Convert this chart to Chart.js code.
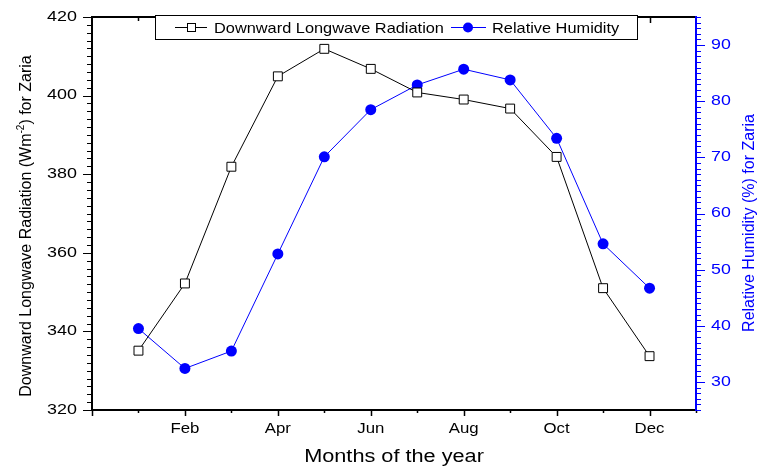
<!DOCTYPE html>
<html>
<head>
<meta charset="utf-8">
<script src="https://cdn.jsdelivr.net/npm/chart.js@4.4.0/dist/chart.umd.min.js"></script>
<style>
  html, body { margin: 0; padding: 0; background: #fff; }
  canvas { display: block; }
</style>
</head>
<body>
<canvas id="chart" width="760" height="466"></canvas>
<script>
// data
const months = ['Jan', 'Feb', 'Mar', 'Apr', 'May', 'Jun', 'Jul', 'Aug', 'Sep', 'Oct', 'Nov', 'Dec'];
const radiation = [335.1, 352.2, 381.9, 404.9, 411.9, 406.8, 400.8, 399.0, 396.7, 384.4, 351.0, 333.7];
const humidity = [39.5, 32.4, 35.5, 52.8, 70.1, 78.5, 82.9, 85.7, 83.8, 73.4, 54.6, 46.7];
const radTicks = [320, 340, 360, 380, 400, 420];
const rhTicks = [30, 40, 50, 60, 70, 80, 90];
const monthTicks = [2, 4, 6, 8, 10, 12];

const BLUE = '#0000ff';
const FONT = 'Arial, "Liberation Sans", sans-serif';

// text drawn a little wider, like the original
function wideText(ctx, txt, x, y, align, sx) {
  ctx.save();
  ctx.translate(x, y);
  ctx.scale(sx, 1);
  ctx.textAlign = align;
  ctx.fillText(txt, 0, 0);
  ctx.restore();
}

const axesPlugin = {
  id: 'axesPlugin',
  afterDraw(chart) {
    const ctx = chart.ctx;
    const a = chart.chartArea;
    const x = chart.scales.x, y = chart.scales.y, y1 = chart.scales.y1;
    ctx.save();

    // frame
    ctx.lineWidth = 2;
    ctx.strokeStyle = '#000';
    ctx.beginPath();
    ctx.moveTo(a.left, a.top); ctx.lineTo(a.right, a.top);
    ctx.moveTo(a.left, a.top - 1); ctx.lineTo(a.left, a.bottom + 1);
    ctx.moveTo(a.left, a.bottom); ctx.lineTo(a.right, a.bottom);
    ctx.stroke();

    // x ticks
    ctx.lineWidth = 1.5;
    ctx.beginPath();
    for (let m = 0; m <= 13; m++) {
      const px = Math.round(x.getPixelForValue(m)) + 0.5;
      const len = m % 2 === 0 ? 6 : 3;
      ctx.moveTo(px, a.bottom); ctx.lineTo(px, a.bottom + len);
      if (m > 0 && m < 13) { ctx.moveTo(px, a.top); ctx.lineTo(px, a.top + (m % 2 === 0 ? 6 : 4)); }
    }
    ctx.stroke();

    // left y ticks
    ctx.lineWidth = 1.2;
    ctx.beginPath();
    for (let v = 320; v <= 420; v += 2) {
      const py = Math.round(y.getPixelForValue(v)) + 0.5;
      const len = v % 20 === 0 ? 9 : 5;
      ctx.moveTo(a.left, py); ctx.lineTo(a.left - len, py);
    }
    ctx.stroke();

    // right axis
    ctx.strokeStyle = BLUE;
    ctx.lineWidth = 2;
    ctx.beginPath();
    ctx.moveTo(a.right, a.top - 1); ctx.lineTo(a.right, a.bottom + 1);
    ctx.stroke();
    ctx.lineWidth = 1.2;
    ctx.beginPath();
    for (let v = 25; v <= 95; v += 1) {
      const py = Math.round(y1.getPixelForValue(v)) + 0.5;
      const len = v % 10 === 0 ? 9 : 5;
      ctx.moveTo(a.right, py); ctx.lineTo(a.right + len, py);
    }
    ctx.stroke();

    // tick labels
    ctx.fillStyle = '#000';
    ctx.font = '14px ' + FONT;
    ctx.textBaseline = 'middle';
    radTicks.forEach(v => wideText(ctx, String(v), 77, y.getPixelForValue(v), 'right', 1.28));
    ctx.fillStyle = BLUE;
    ctx.font = '14px ' + FONT;
    rhTicks.forEach(v => wideText(ctx, String(v), 711, y1.getPixelForValue(v), 'left', 1.27));
    ctx.fillStyle = '#000';
    ctx.textBaseline = 'alphabetic';
    monthTicks.forEach(m => wideText(ctx, months[m - 1], x.getPixelForValue(m), 433, 'center', 1.2));

    // axis titles
    ctx.font = '17.5px ' + FONT;
    wideText(ctx, 'Months of the year', 394, 462, 'center', 1.24);

    ctx.save();
    ctx.translate(31, 226);
    ctx.rotate(-Math.PI / 2);
    const p1 = 'Downward Longwave Radiation (Wm', sup = '-2', p2 = ') for Zaria';
    ctx.font = '16px ' + FONT;
    const w1 = ctx.measureText(p1).width, w3 = ctx.measureText(p2).width;
    ctx.font = '10px ' + FONT;
    const w2 = ctx.measureText(sup).width;
    let cx = -(w1 + w2 + w3) / 2;
    ctx.textAlign = 'left';
    ctx.font = '16px ' + FONT;
    ctx.fillText(p1, cx, 0); cx += w1;
    ctx.font = '10px ' + FONT;
    ctx.fillText(sup, cx, -7); cx += w2;
    ctx.font = '16px ' + FONT;
    ctx.fillText(p2, cx, 0);
    ctx.restore();

    ctx.save();
    ctx.translate(754, 223);
    ctx.rotate(-Math.PI / 2);
    ctx.fillStyle = BLUE;
    ctx.font = '16px ' + FONT;
    ctx.textAlign = 'center';
    ctx.fillText('Relative Humidity (%) for Zaria', 0, 0);
    ctx.restore();

    // legend box
    ctx.fillStyle = '#fff';
    ctx.fillRect(155.5, 15.5, 482, 24);
    ctx.strokeStyle = '#000';
    ctx.lineWidth = 1;
    ctx.strokeRect(155.5, 15.5, 482, 24);

    ctx.beginPath();
    ctx.moveTo(175, 27.5); ctx.lineTo(207, 27.5);
    ctx.stroke();
    ctx.fillRect(187, 23.5, 8, 8);
    ctx.strokeRect(187.5, 23.5, 8, 8);

    ctx.strokeStyle = BLUE;
    ctx.beginPath();
    ctx.moveTo(451, 27.5); ctx.lineTo(486, 27.5);
    ctx.stroke();
    ctx.fillStyle = BLUE;
    ctx.beginPath();
    ctx.arc(468, 27.5, 5, 0, Math.PI * 2);
    ctx.fill();

    ctx.fillStyle = '#000';
    ctx.font = '15px ' + FONT;
    wideText(ctx, 'Downward Longwave Radiation', 214, 33, 'left', 1.09);
    wideText(ctx, 'Relative Humidity', 492, 33, 'left', 1.09);

    ctx.restore();
  }
};

const config = {
  type: 'line',
  data: {
    datasets: [{
      label: 'Downward Longwave Radiation',
      data: radiation.map((v, i) => ({ x: i + 1, y: v })),
      yAxisID: 'y',
      borderColor: '#000',
      borderWidth: 1,
      pointStyle: 'rect',
      pointRadius: 6.3,
      pointBackgroundColor: '#fff',
      pointBorderColor: '#000',
      pointBorderWidth: 1
    }, {
      label: 'Relative Humidity',
      data: humidity.map((v, i) => ({ x: i + 1, y: v })),
      yAxisID: 'y1',
      borderColor: BLUE,
      borderWidth: 1,
      pointStyle: 'circle',
      pointRadius: 5.5,
      pointBackgroundColor: BLUE,
      pointBorderColor: BLUE,
      pointBorderWidth: 0
    }]
  },
  options: {
    responsive: false,
    devicePixelRatio: 1,
    animation: false,
    layout: { padding: { left: 92, right: 64, top: 17, bottom: 56 } },
    scales: {
      x: { type: 'linear', min: 0, max: 13, display: false },
      y: { min: 320, max: 420, display: false },
      y1: { min: 25, max: 95, display: false, position: 'right' }
    },
    plugins: { legend: { display: false }, tooltip: { enabled: false } }
  },
  plugins: [axesPlugin]
};

new Chart(document.getElementById('chart'), config);
</script>
</body>
</html>
